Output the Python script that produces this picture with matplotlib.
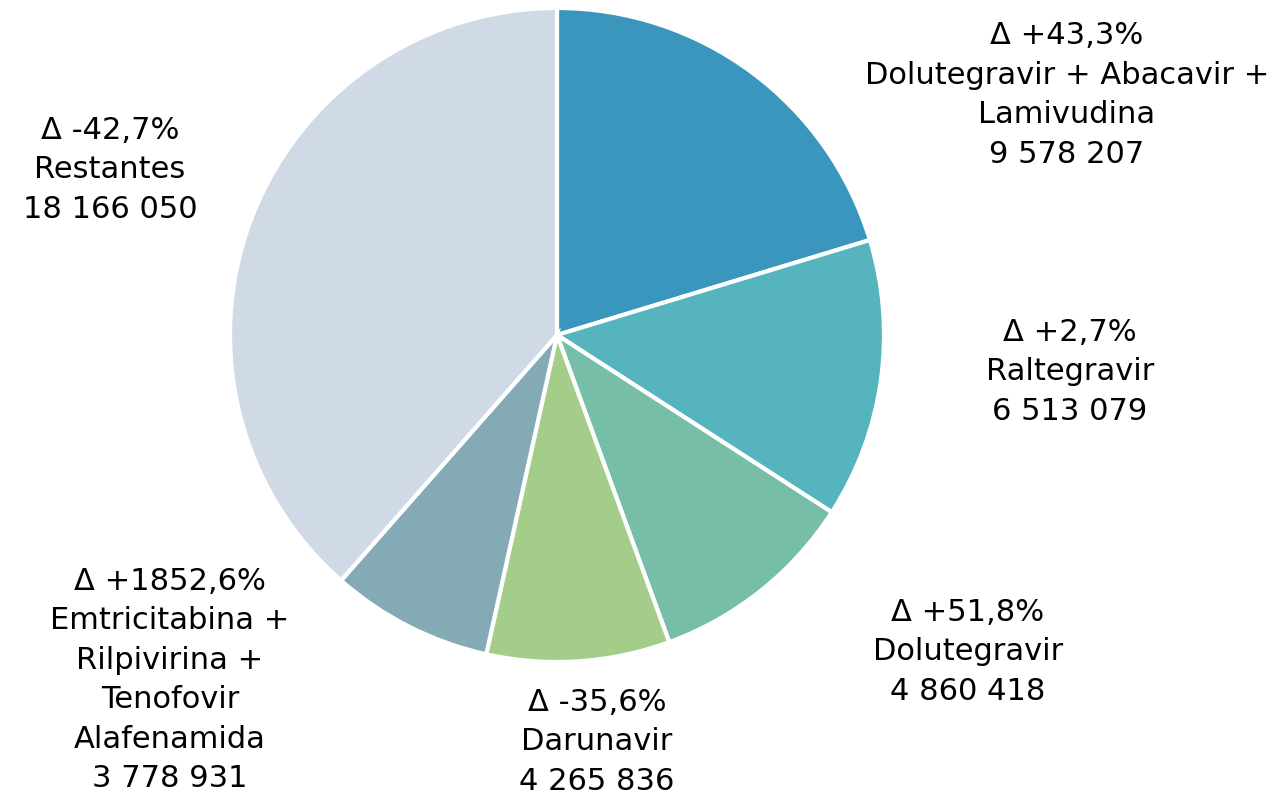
import matplotlib
matplotlib.use("Agg")
import matplotlib.pyplot as plt

names = ["Dolutegravir + Abacavir +\nLamivudina", "Raltegravir", "Dolutegravir",
         "Darunavir", "Emtricitabina +\nRilpivirina +\nTenofovir\nAlafenamida", "Restantes"]
values = [9578207, 6513079, 4860418, 4265836, 3778931, 18166050]
deltas = ["+43,3%", "+2,7%", "+51,8%", "-35,6%", "+1852,6%", "-42,7%"]
colors = ["#3A96BD", "#56B4BF", "#76BEA8", "#A3CD88", "#84ABB5", "#CFDAE6"]

# label centre positions (pixels)
label_pos = [(1067, 95), (1070, 372), (968, 652), (597, 742), (170, 680), (110, 170)]

W, H = 1278, 797
fig = plt.figure(figsize=(W / 100, H / 100), dpi=100)
cx, cy, r = 557, 335, 327
ax = fig.add_axes([(cx - r) / W, (H - cy - r) / H, 2 * r / W, 2 * r / H])
ax.pie(values, colors=colors, startangle=90, counterclock=False, radius=1,
       wedgeprops=dict(edgecolor="white", linewidth=3))
ax.set_aspect("equal")
ax.set_xlim(-1.0, 1.0)
ax.set_ylim(-1.0, 1.0)
ax.axis("off")

def fmt(v):
    return f"{v:,}".replace(",", " ")

for i, (n, v, d) in enumerate(zip(names, values, deltas)):
    x, y = label_pos[i]
    dl = "\u0394 " + d
    txt = dl + "\n" + n + "\n" + fmt(v)
    fig.text(x / W, 1 - y / H, txt,
             ha="center", va="center", fontsize=22, color="black",
             family="DejaVu Sans", linespacing=1.45)

fig.savefig("out.png", dpi=100, facecolor="white")
